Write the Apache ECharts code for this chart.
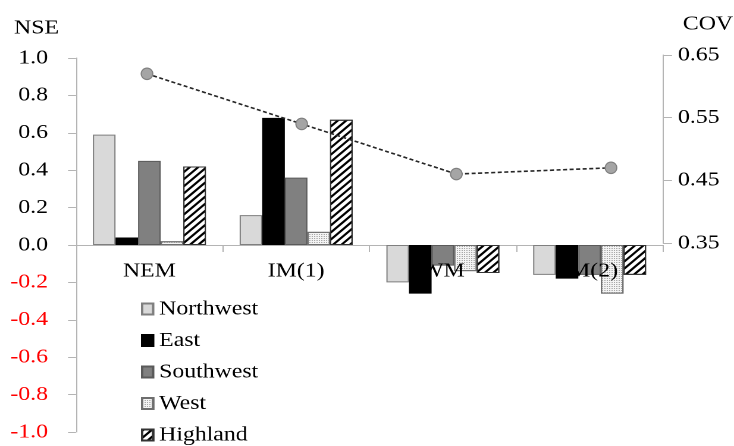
<!DOCTYPE html>
<html>
<head>
<meta charset="utf-8">
<script src="https://cdn.jsdelivr.net/npm/echarts@6/dist/echarts.min.js"></script>
<style>
  html, body { margin: 0; padding: 0; background: #ffffff; overflow: hidden; }
  /* The figure is laid out 617px wide and widened to 734px, which gives the
     broad Times-style lettering of the published figure. */
  #chart { width: 617px; height: 446px; transform: scaleX(1.18963); transform-origin: 0 0; }
</style>
</head>
<body>
<div id="chart"></div>
<script>
// Regions' NSE per monsoon season, and the coefficient of variation (COV)
const categories = ['NEM', 'IM(1)', 'WM', 'IM(2)'];
const northwest = [0.59, 0.16, -0.20, -0.16];
const east      = [0.04, 0.68, -0.26, -0.18];
const southwest = [0.45, 0.36, -0.11, -0.16];
const west      = [0.02, 0.07, -0.14, -0.26];
const highland  = [0.42, 0.67, -0.15, -0.16];
const cov       = [0.62, 0.54, 0.46, 0.47];
const covTicks  = [0.35, 0.45, 0.55, 0.65];

const FONT = 'Liberation Serif';
const AXIS_GREY = '#B4B4B4';

const chart = echarts.init(document.getElementById('chart'), null, {
  renderer: 'canvas',
  devicePixelRatio: 2
});

function barSeries(name, data, itemStyle) {
  return {
    name: name,
    type: 'bar',
    xAxisIndex: 0,
    yAxisIndex: 0,
    data: data,
    barGap: '0%',
    barCategoryGap: '23%',
    itemStyle: Object.assign({ borderWidth: 1 }, itemStyle),
    emphasis: { disabled: true }
  };
}

const option = {
  animation: false,
  backgroundColor: '#ffffff',
  textStyle: { fontFamily: FONT },
  graphic: [
    { type: 'text', left: 11.8, top: 18, style: { text: 'NSE', font: '20px "Liberation Serif"', fill: '#000' } },
    { type: 'text', left: 574, top: 14, style: { text: 'COV', font: '20px "Liberation Serif"', fill: '#000' } }
  ],
  grid: [
    // bars and the NSE axis
    { left: 63.9, right: 59.7, top: 58, bottom: 14, outerBoundsMode: 'none', containLabel: false },
    // upper band: COV axis and the season names under the zero line
    { left: 63.9, right: 59.7, top: 55, height: 188, outerBoundsMode: 'none', containLabel: false },
    // COV line, spread a little wider than the bar groups
    { left: 58.56, width: 520.05, top: 55, height: 188, outerBoundsMode: 'none', containLabel: false }
  ],
  legend: {
    orient: 'vertical',
    left: 118.5,
    top: 299,
    height: 150,
    padding: 0,
    itemWidth: 9.25,
    itemHeight: 11,
    itemGap: 11.5,
    icon: 'rect',
    data: ['Northwest', 'East', 'Southwest', 'West', 'Highland'],
    textStyle: { fontFamily: FONT, fontSize: 20, color: '#000', lineHeight: 20 }
  },
  xAxis: [
    {
      type: 'category',
      gridIndex: 0,
      data: categories,
      axisLine: { onZero: true, onZeroAxisIndex: 0, lineStyle: { color: AXIS_GREY, width: 1 } },
      axisTick: { show: true, length: 7, lineStyle: { color: AXIS_GREY } },
      axisLabel: { show: false }
    },
    {
      type: 'category',
      gridIndex: 1,
      data: categories,
      position: 'bottom',
      z: 10,
      axisLine: { show: false, onZero: false },
      axisTick: { show: false },
      axisLabel: { show: true, interval: 0, fontFamily: FONT, fontSize: 20, color: '#000', margin: 18 }
    },
    { type: 'category', gridIndex: 2, data: categories, show: false, boundaryGap: true }
  ],
  yAxis: [
    {
      type: 'value',
      gridIndex: 0,
      min: -1,
      max: 1,
      interval: 0.2,
      splitLine: { show: false },
      axisLine: { show: true, lineStyle: { color: AXIS_GREY } },
      axisTick: { show: true, length: 6.7, lineStyle: { color: AXIS_GREY } },
      axisLabel: {
        fontFamily: FONT,
        fontSize: 20,
        margin: 23.5,
        formatter: v => v.toFixed(1),
        color: v => (Number(v) < 0 ? '#FF0000' : '#000000')
      }
    },
    {
      type: 'value',
      gridIndex: 1,
      position: 'right',
      min: 0.35,
      max: 0.65,
      splitLine: { show: false },
      axisLine: { show: true, lineStyle: { color: AXIS_GREY } },
      axisTick: { show: true, length: 7.6, lineStyle: { color: AXIS_GREY }, customValues: covTicks },
      axisLabel: {
        fontFamily: FONT,
        fontSize: 20,
        color: '#000',
        margin: 12.6,
        customValues: covTicks,
        formatter: v => Number(v).toFixed(2)
      }
    },
    { type: 'value', gridIndex: 2, min: 0.35, max: 0.65, show: false }
  ],
  series: [
    barSeries('Northwest', northwest, { color: '#D9D9D9', borderColor: '#7F7F7F' }),
    barSeries('East', east, { color: '#000000', borderColor: '#000000' }),
    barSeries('Southwest', southwest, { color: '#808080', borderColor: '#5A5A5A' }),
    barSeries('West', west, {
      color: '#F4F4F4',
      borderColor: '#6E6E6E',
      decal: {
        symbol: 'rect',
        symbolSize: 1,
        dashArrayX: [1, 1],
        dashArrayY: [1, 1],
        rotation: 0,
        color: '#A8A8A8'
      }
    }),
    barSeries('Highland', highland, {
      color: '#FFFFFF',
      borderColor: '#333333',
      decal: {
        symbol: 'rect',
        symbolSize: 1,
        dashArrayX: [1, 0],
        dashArrayY: [2, 2.5],
        rotation: -Math.PI / 4,
        color: '#000000'
      }
    }),
    {
      name: 'COV',
      type: 'line',
      xAxisIndex: 2,
      yAxisIndex: 2,
      data: cov,
      z: 5,
      symbol: 'circle',
      symbolSize: [9.8, 11.5],
      lineStyle: { color: '#262626', width: 1.6, type: [3.4, 2.1] },
      itemStyle: { color: '#A5A5A5', borderColor: '#7F7F7F', borderWidth: 1 },
      emphasis: { disabled: true }
    }
  ]
};

chart.setOption(option);
</script>
</body>
</html>
